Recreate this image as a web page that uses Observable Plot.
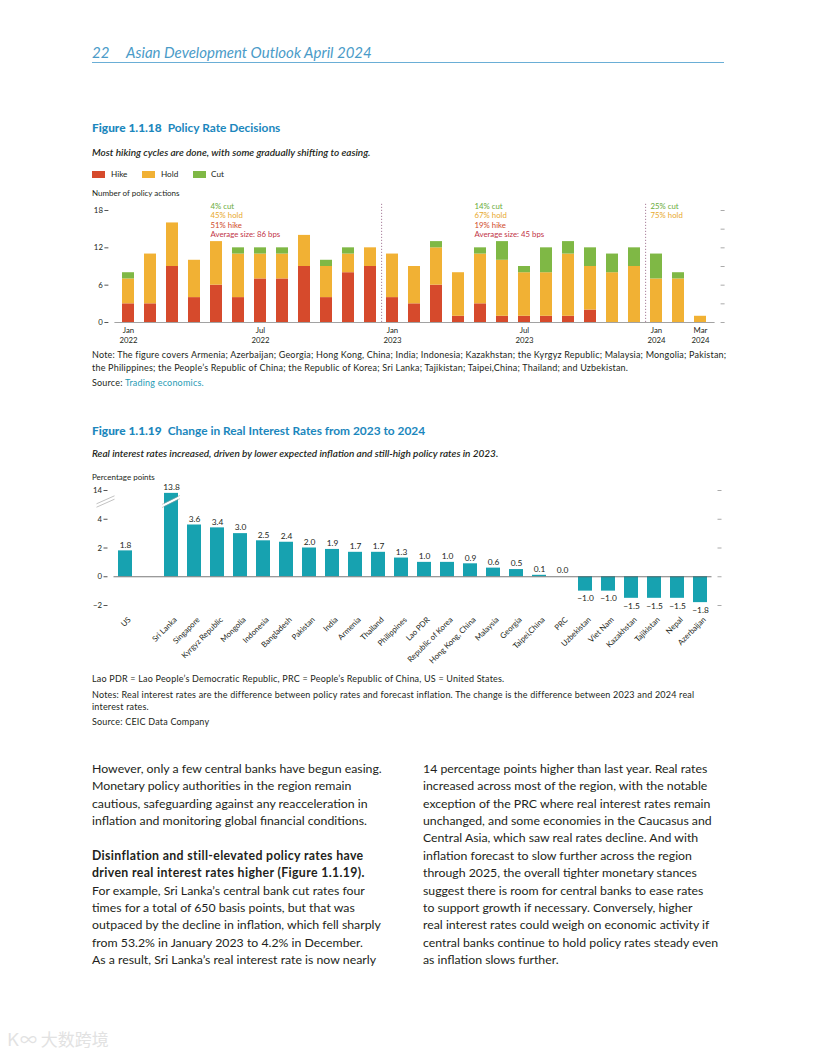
<!DOCTYPE html>
<html><head><meta charset="utf-8">
<script src="https://cdn.jsdelivr.net/npm/d3@7"></script>
<script src="https://cdn.jsdelivr.net/npm/@observablehq/plot@0.6"></script>
<style>
body{margin:0;background:#fff;width:816px;height:1056px;position:relative;overflow:hidden;font-family:Lato,"Noto Sans",sans-serif;color:#231f20}
.a{position:absolute;white-space:nowrap}
.hdr{font-style:italic;font-size:15px;line-height:18px;color:#4a9bc8;top:43px}
.ftitle{font-size:11.9px;line-height:16px;color:#1b87bd;font-weight:700;left:92px}
.ftitle b{font-weight:900;margin-right:6px}
.sub{font-size:10px;line-height:12px;font-style:italic;left:92px;font-weight:600}
.small{font-size:8px;line-height:10px;left:92px}
.note{font-size:9px;letter-spacing:0.2px;line-height:11px;left:92px}
.leg{font-size:8.2px;line-height:10px;top:169px}
.sw{position:absolute;width:13px;height:7px;top:171px}
.body{font-size:12.3px;line-height:17.36px;top:760px}
.body b{font-weight:700;letter-spacing:0.36px}
#c1{position:absolute;left:85px;top:198px}
#c2{position:absolute;left:85px;top:478px}
</style></head><body>
<div id="c1"></div>
<div id="c2"></div>

<div class="a hdr" style="left:92px">22</div>
<div class="a hdr" style="left:126px">Asian Development Outlook April 2024</div>
<div class="a" style="left:92px;top:62px;width:632px;height:1px;background:#6aaed6"></div>

<div class="a ftitle" style="top:120px"><b>Figure 1.1.18</b>Policy Rate Decisions</div>
<div class="a sub" style="top:146px">Most hiking cycles are done, with some gradually shifting to easing.</div>
<div class="sw" style="left:92px;background:#d64a2c"></div><div class="a leg" style="left:111px">Hike</div>
<div class="sw" style="left:142px;background:#f1b134"></div><div class="a leg" style="left:161px">Hold</div>
<div class="sw" style="left:193px;background:#7fb845"></div><div class="a leg" style="left:211px">Cut</div>
<div class="a small" style="top:188px">Number of policy actions</div>

<div class="a note" style="top:348.5px">Note: The figure covers Armenia; Azerbaijan; Georgia; Hong Kong, China; India; Indonesia; Kazakhstan; the Kyrgyz Republic; Malaysia; Mongolia; Pakistan;</div>
<div class="a note" style="top:361.5px">the Philippines; the People’s Republic of China; the Republic of Korea; Sri Lanka; Tajikistan; Taipei,China; Thailand; and Uzbekistan.</div>
<div class="a note" style="top:376.5px">Source: <span style="color:#1f9bb5">Trading economics.</span></div>

<div class="a ftitle" style="top:423px"><b>Figure 1.1.19</b>Change in Real Interest Rates from 2023 to 2024</div>
<div class="a sub" style="top:447px">Real interest rates increased, driven by lower expected inflation and still-high policy rates in 2023.</div>
<div class="a small" style="top:472px">Percentage points</div>

<div class="a note" style="top:672.5px">Lao PDR = Lao People’s Democratic Republic, PRC = People’s Republic of China, US = United States.</div>
<div class="a note" style="top:688.5px">Notes: Real interest rates are the difference between policy rates and forecast inflation. The change is the difference between 2023 and 2024 real</div>
<div class="a note" style="top:700.5px">interest rates.</div>
<div class="a note" style="top:715.5px">Source: CEIC Data Company</div>

<div class="a body" style="left:92px">However, only a few central banks have begun easing.<br>Monetary policy authorities in the region remain<br>cautious, safeguarding against any reacceleration in<br>inflation and monitoring global financial conditions.<br>&nbsp;<br><b>Disinflation and still-elevated policy rates have<br>driven real interest rates higher (Figure 1.1.19).</b><br>For example, Sri Lanka’s central bank cut rates four<br>times for a total of 650 basis points, but that was<br>outpaced by the decline in inflation, which fell sharply<br>from 53.2% in January 2023 to 4.2% in December.<br>As a result, Sri Lanka’s real interest rate is now nearly</div>
<div class="a body" style="left:423px">14 percentage points higher than last year. Real rates<br>increased across most of the region, with the notable<br>exception of the PRC where real interest rates remain<br>unchanged, and some economies in the Caucasus and<br>Central Asia, which saw real rates decline. And with<br>inflation forecast to slow further across the region<br>through 2025, the overall tighter monetary stances<br>suggest there is room for central banks to ease rates<br>to support growth if necessary. Conversely, higher<br>real interest rates could weigh on economic activity if<br>central banks continue to hold policy rates steady even<br>as inflation slows further.</div>

<div class="a" style="left:8px;top:1027px;font-size:17px;line-height:24px;color:#e2e2e2;font-family:'Noto Sans CJK SC',sans-serif">Ꮶ∞ 大数跨境</div>

<script>
// ---------- Figure 1.1.18 data ----------
const months = ["2022-01","2022-02","2022-03","2022-04","2022-05","2022-06","2022-07","2022-08","2022-09","2022-10","2022-11","2022-12",
                "2023-01","2023-02","2023-03","2023-04","2023-05","2023-06","2023-07","2023-08","2023-09","2023-10","2023-11","2023-12",
                "2024-01","2024-02","2024-03"];
const hike = [3,3,9,4,6,4,7,7,9,4,8,9, 4,3,6,1,3,1,1,1,1,2,0,0, 0,0,0];
const hold = [4,8,7,6,7,7,4,4,5,5,3,3, 7,6,6,7,8,9,7,7,10,7,8,9, 7,7,1];
const cut  = [1,0,0,0,0,1,1,1,0,1,1,0, 0,0,1,0,1,3,1,4,2,3,3,3, 4,1,0];
const series = ["Hike","Hold","Cut"];
const seriesColors = ["#d64a2c","#f1b134","#7fb845"];
const tickMonths = ["2022-01","2022-07","2023-01","2023-07","2024-01","2024-03"];
const tickLabels = ["Jan\n2022","Jul\n2022","Jan\n2023","Jul\n2023","Jan\n2024","Mar\n2024"];
const dividerMonths = ["2022-12","2023-12"];
const annoMonths = ["2022-05","2023-05","2024-01"];
const annoCut  = ["4% cut","14% cut","25% cut"];
const annoHold = ["45% hold","67% hold","75% hold"];
const annoHike = ["51% hike","19% hike",""];
const annoAvg  = ["Average size: 86 bps","Average size: 45 bps",""];

// ---------- Figure 1.1.19 data ----------
const countries = ["US","Sri Lanka","Singapore","Kyrgyz Republic","Mongolia","Indonesia","Bangladesh","Pakistan","India","Armenia","Thailand","Philippines","Lao PDR","Republic of Korea","Hong Kong, China","Malaysia","Georgia","Taipei,China","PRC","Uzbekistan","Viet Nam","Kazakhstan","Tajikistan","Nepal","Azerbaijan"];
const changes = [1.8,13.8,3.6,3.4,3.0,2.5,2.4,2.0,1.9,1.7,1.7,1.3,1.0,1.0,0.9,0.6,0.5,0.1,0.0,-1.0,-1.0,-1.5,-1.5,-1.5,-1.8];
const yTickValues = [-2,0,2,4,14];
const yTickLabels = ["−2","0","2","4","14"];

// ---------- Chart 1 ----------
const rows1 = [];
months.forEach((m, i) => [hike, hold, cut].forEach((arr, j) => rows1.push({month: m, type: series[j], n: arr[i]})));
const labelMap = new Map(tickMonths.map((m, i) => [m, tickLabels[i]]));
const W = 650, ml1 = 29.4, mr1 = 20.4;
const step1 = (W - ml1 - mr1) / months.length;
const annoLines = [annoCut, annoHold, annoHike, annoAvg];
const annoColors = ["#6aab3a", "#e8a92c", "#d04a2a", "#c23448"];
const annoDy = [-4.3, 5.1, 14.6, 24];

const chart1 = Plot.plot({
  width: W, height: 150, marginTop: 12, marginBottom: 26, marginLeft: ml1, marginRight: mr1,
  style: {fontFamily: "Lato", fontSize: "7.8px", color: "#231f20", background: "transparent", overflow: "visible"},
  x: {domain: months, paddingInner: 0.44, paddingOuter: 0.22},
  y: {domain: [0, 18]},
  color: {domain: series, range: seriesColors},
  marks: [
    Plot.barY(rows1, {x: "month", y: "n", fill: "type", order: series}),
    Plot.ruleY([0], {stroke: "#8a8a8a", strokeWidth: 0.8}),
    Plot.ruleX(dividerMonths, {x: d => d, y1: 0, y2: 19.2, dx: step1 / 2, stroke: "#a9809c", strokeDasharray: "1.2,1.8", strokeWidth: 1}),
    Plot.axisX({tickFormat: m => labelMap.get(m) ?? "", tickSize: 0, tickPadding: 3, lineHeight: 1.3, label: null}),
    Plot.axisY({anchor: "left", ticks: [0, 6, 12, 18], tickSize: 4, tickPadding: 2, dx: -6, label: null, stroke: "#555"}),
    Plot.axisY({anchor: "right", ticks: d3.range(0, 19, 3), tickSize: 4, tickFormat: () => "", dx: 5, label: null, stroke: "#aaa"}),
    ...annoLines.map((lines, j) => Plot.text(annoMonths.map((m, k) => ({month: m, t: lines[k]})), {
      x: "month", y: () => 18, text: "t", fill: annoColors[j], textAnchor: "start", dx: -6, dy: annoDy[j], fontSize: 7.8
    }))
  ]
});
document.getElementById("c1").append(chart1);

// ---------- Chart 2 (axis broken between 4 and 14) ----------
const gapSlot = " ";
const domain2 = [countries[0], gapSlot, ...countries.slice(1)];
const breakAbove = 6, breakShift = 8;
const disp = v => v > breakAbove ? v - breakShift : v;
const rows2 = countries.map((c, i) => ({country: c, value: changes[i], y: disp(changes[i])}));
const fmt = d3.format(".1f");
const ml2 = 28.5, mr2 = 23.5;

const breakMark = (index, scales, values, dims) => {
  const {x, y} = scales;
  const g = d3.create("svg:g");
  const bw = x.bandwidth();
  const x0 = x(countries[1]);
  const yb = y(disp(13.2));
  const h = 4.5;
  g.append("line").attr("x1", x0 - 2).attr("y1", yb + h).attr("x2", x0 + bw + 2).attr("y2", yb - h)
    .attr("stroke", "white").attr("stroke-width", 2.4);
  for (const o of [-1.6, 1.6]) {
    g.append("line").attr("x1", x0 - 2).attr("y1", yb + h + o).attr("x2", x0 + bw + 2).attr("y2", yb - h + o)
      .attr("stroke", "#9a9a9a").attr("stroke-width", 0.5);
  }
  const ax = dims.marginLeft;
  for (const o of [-1.7, 1.7]) {
    g.append("line").attr("x1", ax - 17).attr("y1", yb + 4 + o).attr("x2", ax + 1).attr("y2", yb - 4 + o)
      .attr("stroke", "#999").attr("stroke-width", 0.6);
  }
  return g.node();
};

const chart2 = Plot.plot({
  width: W, height: 192, marginTop: 12, marginBottom: 65, marginLeft: ml2, marginRight: mr2,
  style: {fontFamily: "Lato", fontSize: "7.8px", color: "#231f20", background: "transparent", overflow: "visible"},
  x: {domain: domain2, paddingInner: 0.4, paddingOuter: 0.2},
  y: {domain: [-2, 6]},
  marks: [
    Plot.barY(rows2, {x: "country", y: "y", fill: "#17a2b0"}),
    Plot.ruleY([0], {stroke: "#555", strokeWidth: 0.8}),
    Plot.text(rows2.filter(d => d.value >= 0), {x: "country", y: "y", text: d => fmt(d.value), dy: -6, fontSize: 8.4}),
    Plot.text(rows2.filter(d => d.value < 0), {x: "country", y: "y", text: d => fmt(d.value), dy: 7.5, fontSize: 8.4}),
    Plot.axisX({tickRotate: -45, tickSize: 0, tickPadding: 3, dx: 4, dy: 10, tickFormat: c => c === gapSlot ? "" : c, label: null}),
    Plot.axisY({anchor: "left", ticks: yTickValues.map(disp), tickFormat: v => yTickLabels[yTickValues.map(disp).indexOf(v)], tickSize: 4, tickPadding: 2, dx: -6, label: null, stroke: "#555"}),
    Plot.axisY({anchor: "right", ticks: yTickValues.map(disp), tickSize: 4, tickFormat: () => "", dx: 5, label: null, stroke: "#aaa"}),
    breakMark
  ]
});
document.getElementById("c2").append(chart2);
</script>
</body></html>
